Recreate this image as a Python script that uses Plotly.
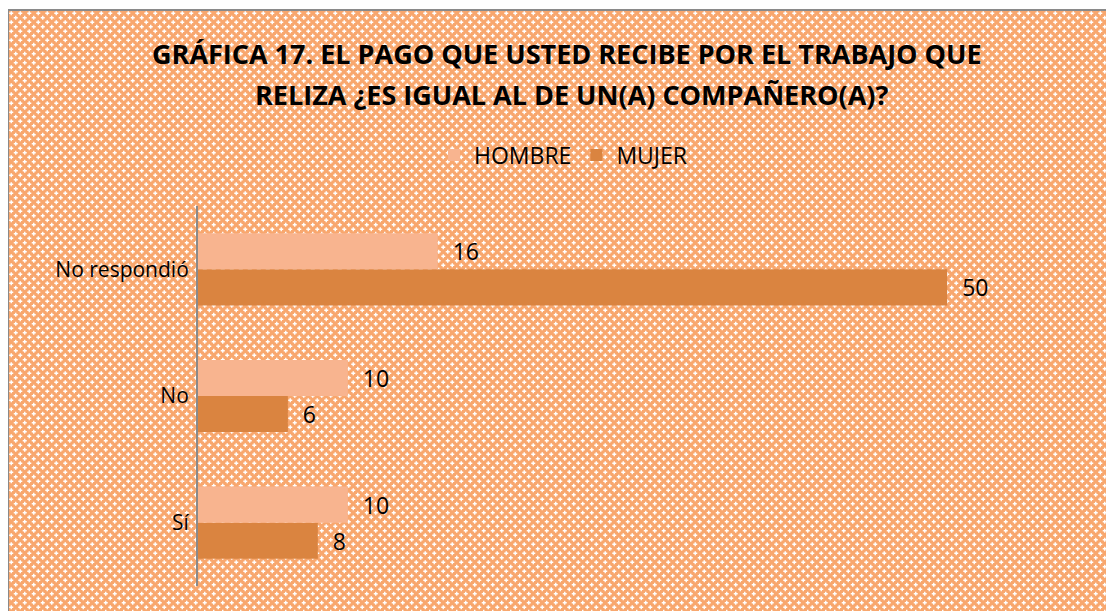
import base64
import plotly.graph_objects as go

# ---- data ----
categories = ["Sí", "No", "No respondió"]
hombre = [10, 10, 16]
mujer = [8, 6, 50]
series_names = ["HOMBRE", "MUJER"]
title_lines = ["GRÁFICA 17. EL PAGO QUE USTED RECIBE POR EL TRABAJO QUE",
               "RELIZA ¿ES IGUAL AL DE UN(A) COMPAÑERO(A)?"]

W, H = 1114, 611
OFF = 8  # page body margin offset
FONT = "Open Sans"
C_H = "#F8B48F"
C_M = "#DA8440"


def py(p):  # reference pixel y (from top) -> paper
    return 1 - (p - OFF) / H


def px(p):
    return (p - OFF) / W


svg = f"""<svg xmlns='http://www.w3.org/2000/svg' width='{W}' height='{H}'>
<defs><pattern id='p' width='9' height='9' patternUnits='userSpaceOnUse'>
<rect width='9' height='9' fill='#F8A76E'/>
<path d='M2.25 0.25v4M0.25 2.25h4M6.75 4.75v4M4.75 6.75h4' stroke='#FFFFFF' stroke-width='1.4'/>
</pattern></defs>
<rect width='{W}' height='{H}' fill='url(#p)'/></svg>"""
uri = "data:image/svg+xml;base64," + base64.b64encode(svg.encode()).decode()

LBL = 23
fig = go.Figure()
fig.add_trace(go.Bar(y=categories, x=mujer, name=series_names[1], orientation="h",
                     marker=dict(color=C_M, line=dict(width=0)), legendrank=2,
                     texttemplate="\u00a0\u00a0%{x}", textposition="outside",
                     textfont=dict(family=FONT, size=LBL, color="#000000"), cliponaxis=False))
fig.add_trace(go.Bar(y=categories, x=hombre, name=series_names[0], orientation="h",
                     marker=dict(color=C_H, line=dict(width=0)), legendrank=1,
                     texttemplate="\u00a0\u00a0%{x}", textposition="outside",
                     textfont=dict(family=FONT, size=LBL, color="#000000"), cliponaxis=False))

fig.update_layout(
    width=W, height=H,
    margin=dict(l=0, r=0, t=0, b=0),
    paper_bgcolor="white", plot_bgcolor="rgba(0,0,0,0)",
    barmode="group", bargap=0.43, bargroupgap=0,
    font=dict(family=FONT, size=LBL, color="#000000"),
    showlegend=True,
    legend=dict(orientation="h", x=px(563), xanchor="center", y=py(155), yanchor="middle",
                font=dict(family=FONT, size=23), bgcolor="rgba(0,0,0,0)",
                itemwidth=30, traceorder="normal"),
    xaxis=dict(domain=[px(198), px(1097)], range=[0, 60], visible=False, fixedrange=True),
    yaxis=dict(domain=[py(586), py(206)], showline=True, linecolor="#8A8A8A", linewidth=2,
               showgrid=False, zeroline=False, ticks="", ticklabelstandoff=3,
               tickfont=dict(family=FONT, size=21), fixedrange=True),
    images=[dict(source=uri, xref="paper", yref="paper", x=px(9), y=py(11),
                 sizex=1, sizey=1, sizing="stretch", layer="below",
                 xanchor="left", yanchor="top")],
    shapes=[
        dict(type="line", xref="paper", yref="paper", x0=px(8), x1=1, y0=py(10), y1=py(10),
             line=dict(color="#8A8A8A", width=2)),
        dict(type="line", xref="paper", yref="paper", x0=px(8), x1=px(8), y0=py(10), y1=0,
             line=dict(color="#8A8A8A", width=2)),
    ],
    annotations=[
        dict(text=title_lines[0], xref="paper", yref="paper", x=px(567), y=py(53),
             xanchor="center", yanchor="middle", showarrow=False,
             font=dict(family=FONT, size=27, color="#000000", weight="bold")),
        dict(text=title_lines[1], xref="paper", yref="paper", x=px(571), y=py(94),
             xanchor="center", yanchor="middle", showarrow=False,
             font=dict(family=FONT, size=27, color="#000000", weight="bold")),
    ],
)

fig.write_html("out.html")
